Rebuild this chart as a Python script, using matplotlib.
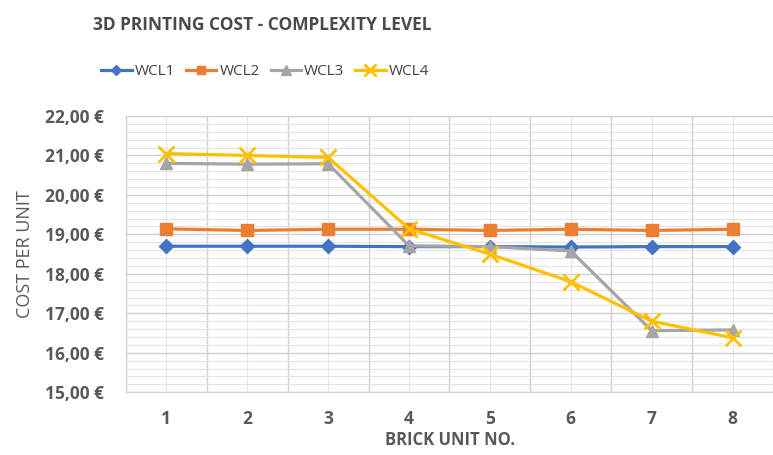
import numpy as np
import matplotlib.pyplot as plt
from matplotlib.ticker import MultipleLocator, FuncFormatter, FixedLocator

plt.rcParams['font.family'] = ['Open Sans', 'DejaVu Sans']

bricks = [1, 2, 3, 4, 5, 6, 7, 8]
wcl1 = [18.70, 18.70, 18.70, 18.69, 18.69, 18.68, 18.69, 18.69]
wcl2 = [19.14, 19.10, 19.13, 19.13, 19.10, 19.13, 19.10, 19.13]
wcl3 = [20.80, 20.78, 20.79, 18.71, 18.69, 18.58, 16.56, 16.58]
wcl4 = [21.05, 21.00, 20.95, 19.14, 18.50, 17.80, 16.80, 16.38]

series = [
    ("WCL1", wcl1, "#4472C4", "D", 7),
    ("WCL2", wcl2, "#ED7D31", "s", 8),
    ("WCL3", wcl3, "#A5A5A5", "^", 9),
    ("WCL4", wcl4, "#FFC000", "x", 11),
]

fig = plt.figure(figsize=(7.73, 4.55), dpi=100)
ax = fig.add_axes([0.163, 0.138, 0.837, 0.607])

for name, vals, col, mk, ms in series:
    ax.plot(bricks, vals, color=col, lw=2.3, marker=mk, markersize=ms,
            markeredgewidth=2 if mk == "x" else 1, markeredgecolor=col,
            label=name, zorder=3)

ax.set_xlim(0.5, 8.5)
ax.set_ylim(15, 22)
ax.set_xticks(bricks)
ax.xaxis.set_minor_locator(FixedLocator(np.arange(0.5, 9, 1)))
ax.yaxis.set_major_locator(MultipleLocator(1))
ax.yaxis.set_minor_locator(MultipleLocator(0.2))
ax.yaxis.set_major_formatter(FuncFormatter(lambda v, p: f"{v:.2f} €".replace(".", ",")))

# excel style grid: y majors, y minors, x lines at category boundaries
ax.grid(which="major", axis="y", color="#D0D0D0", lw=1)
ax.grid(which="minor", axis="y", color="#E4E4E4", lw=0.8)
ax.grid(which="minor", axis="x", color="#D0D0D0", lw=1)
ax.grid(which="major", axis="x", color="#E4E4E4", lw=0.8)
ax.set_axisbelow(True)

for s in ax.spines.values():
    s.set_visible(False)
ax.spines["left"].set_visible(True)
ax.spines["left"].set_color("#D0D0D0")
ax.spines["bottom"].set_visible(True)
ax.spines["bottom"].set_color("#D0D0D0")
ax.tick_params(which="both", length=0)
ax.tick_params(axis="y", pad=16)
ax.tick_params(axis="x", pad=13)
for lab in ax.get_xticklabels() + ax.get_yticklabels():
    lab.set_fontsize(12.5)
    lab.set_color("#595959")
    lab.set_fontweight("bold")

fig.text(0.582, 1 - 440 / 455, "BRICK UNIT NO.", ha="center", va="center",
         fontsize=12, color="#595959", fontweight="bold")
ax.set_ylabel("COST PER UNIT", fontsize=13, color="#595959", labelpad=8)

fig.text(0.339, 0.945, "3D PRINTING COST - COMPLEXITY LEVEL", ha="center", va="center",
         fontsize=12.5, fontweight="bold", color="#4a4a4a")
fig.legend(loc="center", bbox_to_anchor=(0.343, 0.842), ncol=4, frameon=False,
           fontsize=11, handlelength=2.0, columnspacing=0.7, handletextpad=0.2,
           markerscale=0.8, labelcolor="#404040")

fig.savefig("out.png", dpi=100)
